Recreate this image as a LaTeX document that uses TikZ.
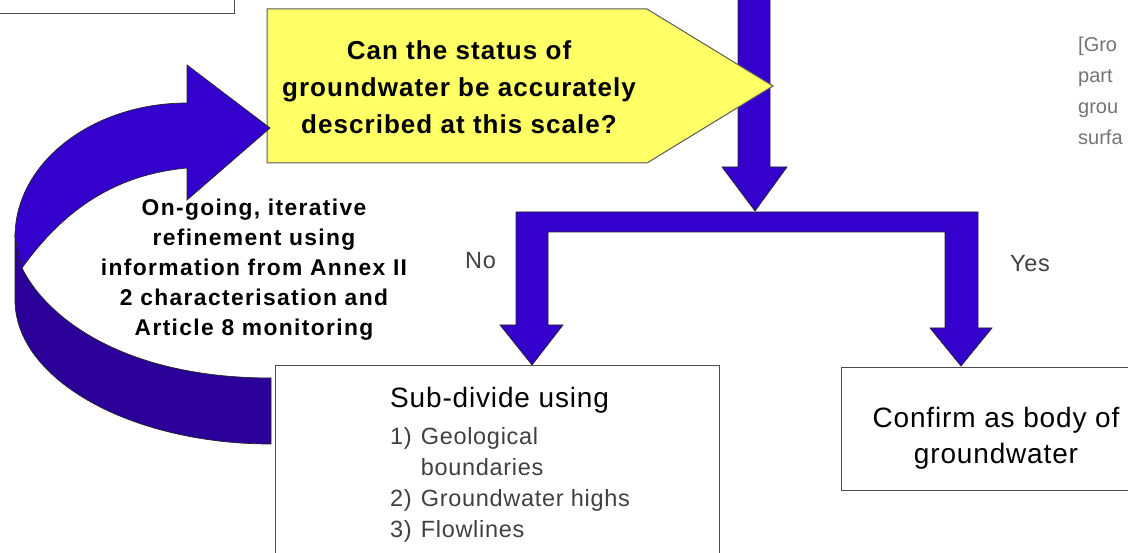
\documentclass[tikz,border=0pt]{standalone}
\usepackage{fontspec}
\setmainfont{Liberation Sans}
\newfontfamily\wideb[LetterSpace=4]{Liberation Sans Bold}
\newfontfamily\widebb[LetterSpace=6]{Liberation Sans Bold}
\newfontfamily\wider[LetterSpace=3]{Liberation Sans}
\definecolor{arrowblue}{HTML}{3300CC}
\definecolor{arrowdark}{HTML}{2A0099}
\definecolor{boxyellow}{HTML}{FFFF66}
\definecolor{txtgray}{HTML}{404040}
\begin{document}
\begin{tikzpicture}[x=1pt,y=-1pt,
  blockarrow/.style={fill=arrowblue, draw=black!85, line width=0.7pt, line join=miter},
  darkarrow/.style={fill=arrowdark, draw=black!85, line width=0.7pt, line join=miter},
  box/.style={draw=black!70, line width=1.3pt, fill=white},
  qtext/.style={font=\wideb\fontsize{26}{37}\selectfont, align=center, inner sep=0pt},
  ltext/.style={font=\widebb\fontsize{22.8}{30}\selectfont, align=center, inner sep=0pt},
  graytext/.style={font=\wider\fontsize{23.5}{31}\selectfont, text=txtgray, inner sep=0pt},
  sidetext/.style={font=\fontsize{20}{31}\selectfont, text=black!55, inner sep=0pt, anchor=west, text height=14pt, text depth=4pt}
]
\useasboundingbox (0,0) rectangle (1128,553);
\clip (0,0) rectangle (1128,553);

% top-left box (partly visible)
\node[box, anchor=south east, minimum width=260pt, minimum height=40pt] (topbox) at (235,14) {};

% vertical arrow from top
\draw[blockarrow] (738,-5) -- (770,-5) -- (770,167) -- (787,167) -- (755,211) -- (722,167) -- (738,167) -- cycle;

% yellow decision pentagon
\draw[fill=boxyellow, draw=black!65, line width=1pt] (267,9) -- (647,9) -- (773,86) -- (647,163) -- (267,163) -- cycle;
\node[qtext] (question) at (459,87) {Can the status of\\groundwater be accurately\\described at this scale?};

% fork arrows
\draw[blockarrow] (516,212) -- (978,212) -- (978,328) -- (992,328) -- (961,366) -- (930,328) -- (945,328) -- (945,232) -- (548,232) -- (548,325) -- (563,325) -- (532,365) -- (500,325) -- (516,325) -- cycle;
\node[graytext, anchor=west, text height=16pt, text depth=5pt] (no) at (465,263) {No};
\node[graytext, anchor=west, text height=16pt, text depth=5pt] (yes) at (1010,266) {Yes};

% curved feedback arrow
\draw[darkarrow] (15,237) -- (15,300) .. controls (15,379) and (130,444) .. (271,444) -- (271,378) .. controls (120,378) and (45,315) .. (22,268) -- cycle;
\draw[blockarrow] (187,103) -- (187,65) -- (270,128) -- (187,200) -- (187,168) .. controls (110,175) and (60,215) .. (22,268) -- (15,237) .. controls (15,163) and (92,103) .. (187,103) -- cycle;
\node[ltext] (loop) at (254,270) {On-going, iterative\\refinement using\\information from Annex II\\2 characterisation and\\Article 8 monitoring};

% sub-divide box
\node[box, anchor=north west, minimum width=444pt, minimum height=210pt] (sub) at (275,365) {};
\node[font=\wider\fontsize{28}{31}\selectfont, anchor=west, inner sep=0pt] (subtitle) at (390,400) {Sub-divide using};
\node[graytext, anchor=north west] (sublist) at (390,423) {\begin{tabular}{@{}l@{\hspace{9pt}}l@{}}1) & Geological\\ & boundaries\\ 2) & Groundwater highs\\ 3) & Flowlines\end{tabular}};

% confirm box
\node[box, anchor=north west, minimum width=300pt, minimum height=123pt] (confirm) at (841,367) {};
\node[font=\wider\fontsize{28}{36}\selectfont, align=center, inner sep=0pt] (confirmtext) at (996,438) {Confirm as body of\\groundwater};

% right-hand cut-off text
\node[sidetext] (r1) at (1078,47) {[Gro};
\node[sidetext] (r2) at (1078,78) {part};
\node[sidetext] (r3) at (1078,109) {grou};
\node[sidetext] (r4) at (1078,140) {surfa};
\end{tikzpicture}
\end{document}
